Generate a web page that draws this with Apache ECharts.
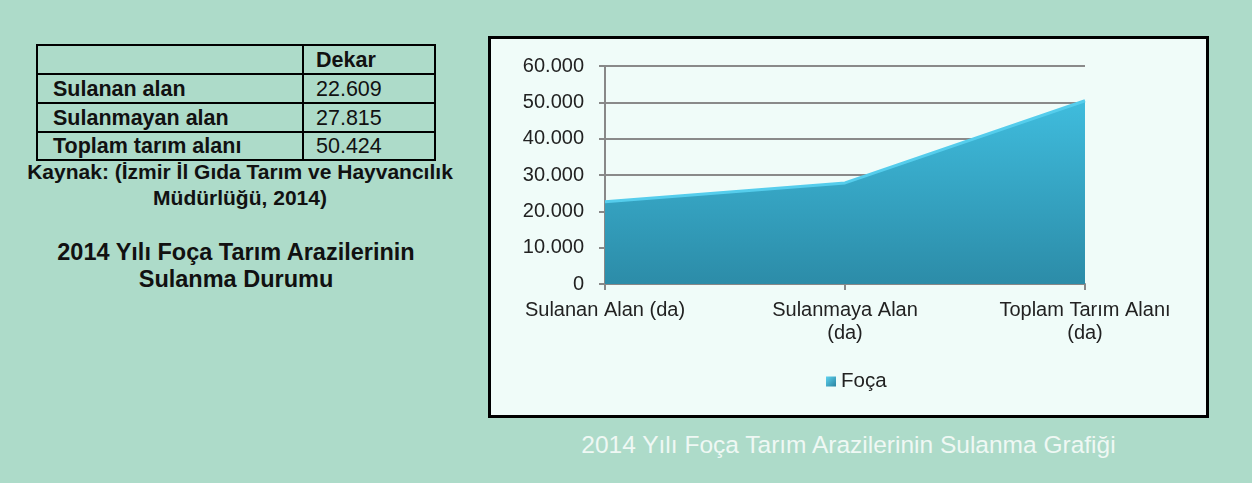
<!DOCTYPE html>
<html><head><meta charset="utf-8">
<script src="https://cdn.jsdelivr.net/npm/echarts@6/dist/echarts.min.js"></script>
<style>
html,body{margin:0;padding:0;}
body{width:1252px;height:483px;background:#ADDBC9;position:relative;overflow:hidden;font-family:"Liberation Sans",Arial,sans-serif;}
#tbl{position:absolute;left:36px;top:44px;border-collapse:collapse;z-index:1;}
#tbl td{border:2px solid #000;height:27px;padding:0;font-size:21.5px;line-height:24px;color:#111;}
#tbl tr:last-child td{height:26px;}
#tbl td.k{width:249px;font-weight:bold;padding-left:15px;}
#tbl td.v{width:118px;padding-left:12px;}
#tbl td.h{font-weight:bold;}
.src{position:absolute;left:16px;width:448px;text-align:center;font-weight:bold;font-size:21px;color:#111;line-height:26px;top:159px;z-index:2;}
.ttl{position:absolute;left:16px;width:440px;text-align:center;font-weight:bold;font-size:23.5px;color:#111;line-height:27px;top:239px;}
#chart{position:absolute;left:488px;top:36px;width:721px;height:382px;box-sizing:border-box;border:3px solid #000;background:#F0FCF9;}
.cap{position:absolute;left:488px;width:721px;text-align:center;top:431px;font-size:24.5px;line-height:28px;color:#EFF8F4;}
</style></head>
<body>
<table id="tbl"></table>
<div class="src">Kaynak: (İzmir İl Gıda Tarım ve Hayvancılık<br>Müdürlüğü, 2014)</div>
<div class="ttl">2014 Yılı Foça Tarım Arazilerinin<br>Sulanma Durumu</div>
<div id="chart"></div>
<div class="cap">2014 Yılı Foça Tarım Arazilerinin Sulanma Grafiği</div>
<script>
const tableHeader = "Dekar";
const tableRows = ["Sulanan alan", "Sulanmayan alan", "Toplam tarım alanı"];
const tableValues = ["22.609", "27.815", "50.424"];
const categories = ["Sulanan Alan (da)", "Sulanmaya Alan\n(da)", "Toplam Tarım Alanı\n(da)"];
const seriesName = "Foça";
const seriesValues = [22609, 27815, 50424];
const yTicks = [0, 10000, 20000, 30000, 40000, 50000, 60000];

// table
let html = '<tr><td class="k"></td><td class="v h">' + tableHeader + '</td></tr>';
tableRows.forEach((r, i) => { html += '<tr><td class="k">' + r + '</td><td class="v">' + tableValues[i] + '</td></tr>'; });
document.getElementById('tbl').innerHTML = html;

const fmt = v => v === 0 ? '0' : String(v).replace(/\B(?=(\d{3})+(?!\d))/g, '.');
const chart = echarts.init(document.getElementById('chart'), null, {renderer: 'canvas'});
const font = '"Liberation Sans", Arial, sans-serif';
chart.setOption({
  animation: false,
  grid: {left: 114, right: 121, top: 27, bottom: 131},
  legend: {
    data: [seriesName], left: 330, top: 327, itemWidth: 10, itemHeight: 10, itemGap: 4,
    icon: 'rect',
    textStyle: {fontFamily: font, fontSize: 20.5, color: '#222'}
  },
  xAxis: {
    type: 'category', data: categories, boundaryGap: false,
    axisLine: {lineStyle: {color: '#888', width: 2}},
    axisTick: {show: true, length: 6, lineStyle: {color: '#888', width: 2}},
    axisLabel: {fontFamily: font, fontSize: 20, color: '#222', margin: 15, lineHeight: 23, interval: 0}
  },
  yAxis: {
    type: 'value', min: yTicks[0], max: yTicks[yTicks.length - 1], interval: yTicks[1] - yTicks[0],
    axisLine: {show: true, lineStyle: {color: '#888', width: 2}},
    axisTick: {show: true, length: 6, lineStyle: {color: '#888', width: 2}},
    splitLine: {lineStyle: {color: '#8a8a8a', width: 2}},
    axisLabel: {fontFamily: font, fontSize: 20, color: '#222', margin: 21, formatter: v => fmt(v)}
  },
  series: [{
    name: seriesName, type: 'line', data: seriesValues, symbol: 'none',
    lineStyle: {color: '#55CDEC', width: 3},
    itemStyle: {color: new echarts.graphic.LinearGradient(0, 0, 1, 1, [{offset: 0, color: '#5ED3F0'}, {offset: 1, color: '#2A83A0'}])},
    areaStyle: {opacity: 1, color: new echarts.graphic.LinearGradient(0, 0, 0, 1, [{offset: 0, color: '#3FBCDD'}, {offset: 1, color: '#2C8CA8'}])},
    z: 3
  }]
});
</script>
</body></html>
